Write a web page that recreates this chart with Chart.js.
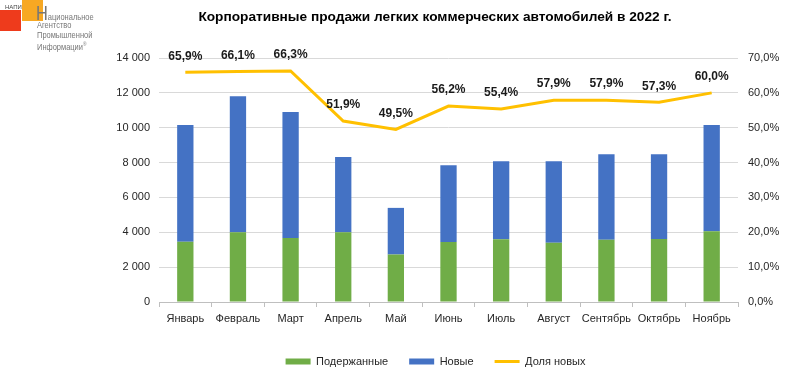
<!DOCTYPE html>
<html>
<head>
<meta charset="utf-8">
<script src="https://cdn.jsdelivr.net/npm/chart.js@4/dist/chart.umd.min.js"></script>
<style>
html,body{margin:0;padding:0;background:#fff;}
#wrap{position:relative;width:787px;height:373px;overflow:hidden;}
#c{position:absolute;left:0;top:0;}
#title{position:absolute;left:0;width:870px;top:9px;text-align:center;font:bold 13.7px "Liberation Sans",Arial,sans-serif;color:#000;white-space:nowrap;}
.sq{position:absolute;}
.logo{position:absolute;font-family:"Liberation Sans",Arial,sans-serif;color:#777;font-size:9.6px;line-height:10px;white-space:nowrap;transform:scaleX(0.78);transform-origin:0 0;}
</style>
</head>
<body>
<div id="wrap">
<canvas id="c" width="787" height="373"></canvas>
<div id="title">Корпоративные продажи легких коммерческих автомобилей в 2022 г.</div>
<div class="sq" style="left:22px;top:0;width:21px;height:21px;background:#F7A823;"></div>
<div class="sq" style="left:0;top:10px;width:21px;height:21px;background:#EE3B1C;"></div>
<div class="logo" style="left:5px;top:4px;font-size:6px;color:#444;line-height:7px;transform:none;">НАПИ</div>
<div class="logo" style="left:36px;top:4px;line-height:18px;"><span style="font-size:21px;color:#777;">Н</span>ациональное</div>
<div class="logo" style="left:37px;top:20px;">Агентство</div>
<div class="logo" style="left:37px;top:30px;">Промышленной</div>
<div class="logo" style="left:37px;top:39px;">Информации<sup style="font-size:6px;">®</sup></div>
</div>
<script>
const categories = ["Январь","Февраль","Март","Апрель","Май","Июнь","Июль","Август","Сентябрь","Октябрь","Ноябрь"];
const usedSales = [3460,4000,3670,4000,2725,3440,3600,3400,3570,3620,4060];
const newSales  = [6690,7800,7230,4320,2675,4410,4470,4670,4910,4860,6090];
const newShare  = [65.9,66.1,66.3,51.9,49.5,56.2,55.4,57.9,57.9,57.3,60.0];
const seriesNames = ["Подержанные","Новые","Доля новых"];

const fmtNum = v => String(v).replace(/\B(?=(\d{3})+(?!\d))/g, "\u00a0");
const fmtPct = v => v.toFixed(1).replace(".", ",") + "%";

const shareLabels = {
  id: "shareLabels",
  afterDatasetsDraw(chart) {
    const meta = chart.getDatasetMeta(2);
    const ctx = chart.ctx;
    ctx.save();
    ctx.font = "bold 12px 'Liberation Sans', Arial, sans-serif";
    ctx.fillStyle = "#1a1a1a";
    ctx.textAlign = "center";
    ctx.textBaseline = "middle";
    meta.data.forEach((el, i) => {
      ctx.fillText(fmtPct(newShare[i]), el.x, el.y - 16);
    });
    ctx.restore();
  }
};

const legendShift = {
  id: "legendShift",
  afterLayout(chart) {
    if (chart.legend) { chart.legend.left += 42; chart.legend.right += 42; }
  }
};

const tickFont = {family: "'Liberation Sans', Arial, sans-serif", size: 11};
const textColor = "#262626";

new Chart(document.getElementById("c"), {
  data: {
    labels: categories,
    datasets: [
      {type: "bar", label: seriesNames[0], data: usedSales, backgroundColor: "#70AD47", yAxisID: "y", stack: "s", barPercentage: 0.31, categoryPercentage: 1, pointStyle: "rect", borderWidth: 0},
      {type: "bar", label: seriesNames[1], data: newSales, backgroundColor: "#4472C4", yAxisID: "y", stack: "s", barPercentage: 0.31, categoryPercentage: 1, pointStyle: "rect", borderWidth: 0},
      {type: "line", label: seriesNames[2], data: newShare, borderColor: "#FFC000", backgroundColor: "#FFC000", borderWidth: 3, pointRadius: 0, tension: 0, yAxisID: "y1", pointStyle: "line"}
    ]
  },
  options: {
    responsive: false,
    animation: false,
    devicePixelRatio: 1,
    layout: {padding: {top: 58, left: 0, right: 0, bottom: -4}},
    plugins: {
      title: {display: false},
      tooltip: {enabled: false},
      legend: {
        position: "bottom",
        labels: {
          usePointStyle: true,
          pointStyleWidth: 25,
          boxHeight: 6,
          padding: 21,
          color: textColor,
          font: tickFont
        }
      }
    },
    scales: {
      x: {
        stacked: true,
        offset: true,
        grid: {display: true, drawOnChartArea: false, drawTicks: true, tickLength: 5, color: "#bfbfbf", offset: true},
        border: {display: true, color: "#bfbfbf"},
        ticks: {color: textColor, font: tickFont, padding: 5, maxRotation: 0, autoSkip: false},
        afterFit(s) { s.height = 33; }
      },
      y: {
        stacked: true,
        position: "left",
        min: 0, max: 14000,
        ticks: {stepSize: 2000, color: textColor, font: tickFont, padding: 9, callback: v => fmtNum(v)},
        grid: {color: "#d9d9d9", drawTicks: false},
        border: {display: false},
        afterFit(s) { s.width = 159; }
      },
      y1: {
        position: "right",
        min: 0, max: 70,
        ticks: {stepSize: 10, color: textColor, font: tickFont, padding: 10, callback: v => fmtPct(v)},
        grid: {display: false, drawTicks: false},
        border: {display: false},
        afterFit(s) { s.width = 49; }
      }
    }
  },
  plugins: [shareLabels, legendShift]
});
</script>
</body>
</html>
